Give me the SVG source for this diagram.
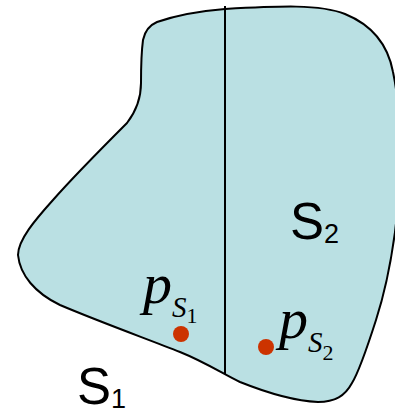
<svg xmlns="http://www.w3.org/2000/svg" width="395" height="414" viewBox="0 0 395 414">
<style>
.sans{font-family:"Liberation Sans",Arial,sans-serif;fill:#000}
.serif{font-family:"Liberation Serif","Times New Roman",serif;font-style:italic;fill:#000}
.dot{fill:#CC3300}
</style>
<g id="region">
<path d="M 157,22 C 180,14 200,11 225,9 C 280,6 320,4 345,14 C 372,25 388,45 393,72 C 402,115 402,175 395,232 C 391,262 385,292 376,320 C 368,345 360,370 352,383 C 345,396 335,402 318,402 C 295,401 265,392 240,382 C 225,375 205,362 180,352 C 150,340 100,322 60,305 C 35,293 20,275 18,255 C 18,240 35,220 53,200 C 75,175 110,140 127,123 C 137,110 141,95 141,83 C 141,70 141,55 143,40 C 145,30 150,25 157,22 Z" fill="#BAE0E3" stroke="#000" stroke-width="2"/>
</g>
<g id="connectors">
<line x1="225" y1="6" x2="225" y2="374" stroke="#000" stroke-width="2"/>
</g>
<g id="pS1">
<circle class="dot" cx="181" cy="334" r="8"/>
<text class="serif" x="143" y="303" font-size="58">p<tspan font-size="29" dy="14">S</tspan><tspan font-size="22" dy="6" font-style="normal">1</tspan></text>
</g>
<g id="pS2">
<circle class="dot" cx="266" cy="347" r="8"/>
<text class="serif" x="279" y="338" font-size="58">p<tspan font-size="29" dy="14">S</tspan><tspan font-size="22" dy="8" font-style="normal">2</tspan></text>
</g>
<g id="S2">
<text class="sans" x="290" y="239" font-size="51">S<tspan font-size="27" dy="4">2</tspan></text>
</g>
<g id="S1">
<text class="sans" x="77" y="404" font-size="51">S<tspan font-size="27" dy="4">1</tspan></text>
</g>
</svg>
